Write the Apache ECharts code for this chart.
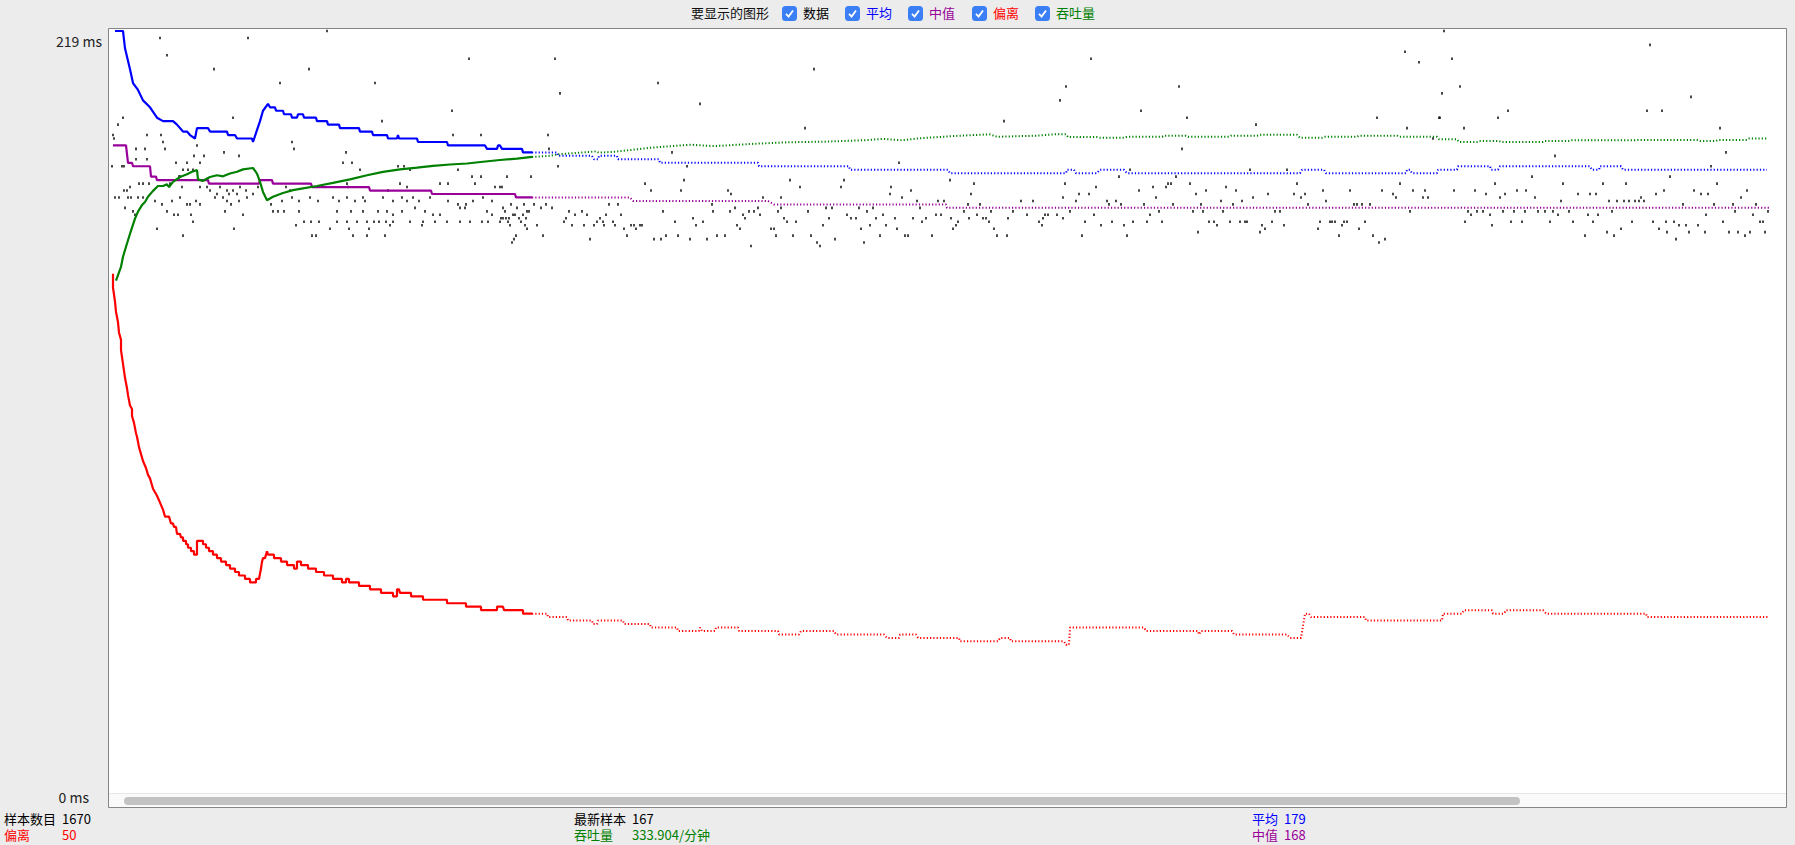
<!DOCTYPE html>
<html>
<head>
<meta charset="utf-8">
<script src="https://cdn.jsdelivr.net/npm/echarts@6.0.0/dist/echarts.min.js"></script>
<style>
html, body { margin: 0; padding: 0; background: #ececec; }
#chart { width: 1795px; height: 845px; }
</style>
</head>
<body>
<div id="chart"></div>
<script>
// x = sample column (0 .. 1674), y = ms
const yTicks = [0, 219];

// each sample (black dots)
const samples = [
  [48,217],[136,217],[215,219],[55,212],[102,208],[197,208],[168,204],[263,204],[357,211],[340,196],[11,194],[6,192],[121,194],[270,193],
  [1,189],[2,188],[35,189],[49,189],[51,187],[53,185],[24,185],[33,185],[85,186],[180,187],[182,185],[234,184],[341,189],[369,189],[436,189],
  [82,183],[92,183],[88,181],[112,184],[127,183],[24,182],[35,182],[64,181],[75,181],[231,181],[240,181],[248,179],[0,180],[10,180],[12,180],
  [286,180],[292,180],[298,179],[346,179],[360,177],[369,177],[67,177],[68,177],[71,179],[76,179],[81,179],[37,175],[18,174],[15,173],[12,173],
  [27,175],[31,175],[58,175],[70,174],[88,174],[95,174],[98,173],[105,172],[108,174],[115,173],[117,172],[121,173],[125,172],[128,174],[134,173],
  [141,172],[146,174],[174,174],[178,173],[235,175],[236,174],[276,173],[288,175],[295,174],[328,175],[336,175],[363,175],[383,174],[388,174],
  [3,171],[7,171],[16,171],[19,171],[26,171],[31,171],[43,170],[50,169],[60,170],[68,171],[75,169],[78,169],[84,170],[88,169],[103,171],[111,171],
  [115,170],[119,169],[127,170],[135,171],[159,169],[170,170],[180,171],[187,170],[198,171],[206,170],[221,171],[227,170],[235,171],[243,170],
  [251,171],[253,170],[271,171],[281,170],[290,171],[295,170],[301,171],[307,170],[318,171],[336,170],[346,169],[354,169],[361,170],[371,171],
  [380,170],[13,168],[21,167],[23,166],[55,167],[62,166],[66,166],[79,166],[113,167],[131,166],[161,167],[166,167],[172,167],[187,167],[225,167],
  [239,167],[251,167],[266,167],[275,167],[281,166],[290,167],[303,168],[313,167],[321,166],[328,166],[348,168],[353,168],[375,167],[380,166],
  [81,164],[184,163],[192,164],[199,164],[207,164],[225,164],[235,164],[245,164],[255,164],[262,164],[267,164],[274,164],[281,164],[298,164],
  [311,164],[323,164],[335,164],[348,164],[358,164],[370,164],[376,164],[388,164],[45,162],[122,162],[200,160],[218,162],[237,162],[257,162],
  [278,163],[310,163],[71,160],[204,160],[241,160],[255,160],[273,160],
  [443,211],[448,201],[546,204],[702,208],[979,211],[954,203],
  [588,198],[948,199],[892,193],[693,191],[437,185],[560,184],[446,180],[575,180],[787,181],[395,177],[419,177],[678,176],[732,176],[572,176],
  [838,176],[533,175],[688,174],[729,174],[779,174],[862,175],[953,175],[984,174],[390,174],[539,173],[569,173],[616,173],[619,172],[799,173],
  [778,172],[859,172],[967,172],[977,172],[651,171],[669,171],[790,171],[951,171],[909,170],[921,170],[805,170],[826,170],[832,170],[964,170],
  [391,168],[399,169],[405,168],[412,169],[422,169],[429,168],[434,169],[440,168],[497,169],[506,169],[600,169],[623,168],[646,168],[669,168],
  [714,168],[720,168],[747,168],[761,168],[808,168],[852,167],[856,169],[868,169],[865,166],[879,167],[901,167],[915,166],[933,166],[936,166],
  [945,166],[958,167],[982,166],[393,167],[401,166],[403,166],[411,166],[415,167],[417,167],[457,167],[463,166],[470,167],[475,166],[494,166],
  [509,166],[551,167],[601,167],[618,167],[631,166],[637,167],[642,167],[648,166],[666,167],[696,167],[735,166],[755,167],[771,166],[824,166],
  [829,166],[389,165],[391,165],[394,165],[397,165],[407,165],[414,165],[454,165],[488,165],[581,165],[633,165],[672,165],[717,165],[739,165],
  [744,165],[764,165],[783,165],[801,165],[814,165],[839,165],[857,165],[871,165],[874,165],[896,165],[931,165],[951,165],[396,164],[409,164],
  [452,164],[485,164],[491,164],[501,164],[563,164],[591,164],[675,164],[684,164],[810,164],[846,164],[877,164],[927,164],[973,164],[398,163],
  [413,163],[425,163],[460,163],[472,163],[482,163],[492,163],[503,163],[519,163],[522,163],[528,163],[530,163],[584,163],[625,163],[711,163],
  [758,163],[774,163],[844,163],[930,163],[989,163],[415,162],[512,162],[524,162],[628,162],[659,162],[662,162],[749,162],[785,162],[841,162],
  [882,162],[404,160],[431,160],[515,160],[566,160],[613,160],[681,160],[699,160],[796,160],[820,160],[885,160],[895,160],[664,160],[768,160],
  [793,160],[970,160],[402,159],[478,159],[542,159],[549,159],[554,160],[578,159],[595,159],[605,160],[723,159],[400,158],[639,157],[705,158],
  [708,157],[752,158],
  [1332,219],[1293,213],[1307,210],[1340,211],[1538,215],[1067,203],[1348,203],[1330,201],[1029,196],[1075,194],[1396,196],[1386,194],[1535,196],
  [1550,196],[1579,200],[1265,194],[1327,194],[1328,194],[1144,192],[1295,191],[1352,191],[1608,191],[1070,185],[1614,184],[1321,188],[1443,183],
  [1599,180],[1018,179],[1138,179],[1175,179],[1007,177],[1064,177],[1420,177],[1558,177],[1056,175],[1059,175],[1078,175],[1185,175],[1288,175],
  [1383,175],[1514,175],[1451,175],[1491,175],[1605,175],[1027,173],[1094,173],[1124,173],[1211,173],[1238,173],[1270,173],[1301,173],[1313,173],
  [1342,173],[1363,173],[1405,173],[1414,173],[1552,173],[1582,173],[1635,173],[1041,174],[1054,174],[1114,174],[1084,172],[1156,172],[1182,172],
  [1193,172],[1281,172],[1374,172],[1393,172],[1466,172],[1478,172],[1484,172],[1544,172],[1589,172],[1596,172],[1044,171],[1141,171],[1189,171],
  [1284,171],[1311,171],[1316,171],[1388,171],[1423,171],[1529,171],[1629,171],[995,170],[1004,170],[1109,170],[1130,170],[1214,170],[1449,170],
  [1497,170],[1505,170],[1512,170],[1517,170],[1523,170],[1527,170],[1532,170],[1602,169],[997,169],[1009,169],[1032,169],[1061,169],[1089,169],
  [1121,169],[1196,169],[1242,169],[1245,169],[1250,169],[1258,169],[1571,169],[1621,169],[1644,169],[1656,167],[1047,167],[1081,167],[1091,167],
  [1111,167],[1163,167],[1168,167],[1298,167],[1356,167],[1365,167],[1371,167],[1391,167],[1402,167],[1413,167],[1426,167],[1433,167],[1441,167],
  [1457,167],[1500,167],[1623,167],[1038,166],[1359,166],[1378,166],[1446,166],[1476,166],[1486,166],[1594,166],[1641,166],[1021,164],[1050,164],
  [1097,164],[1128,164],[1133,164],[1208,164],[1220,164],[1223,164],[1232,164],[1353,164],[1438,164],[1481,164],[1562,164],[1611,164],[1648,164],
  [1651,164],[1000,164],[1035,164],[1102,164],[1118,164],[1135,164],[1160,164],[1218,164],[1235,164],[1253,164],[1410,164],[1399,164],[1461,164],
  [1520,164],[1541,164],[1554,164],[1012,163],[1105,163],[1150,163],[1172,163],[1230,163],[1380,163],[1567,163],[1574,163],[1586,163],[1509,162],
  [1153,162],[1206,162],[1247,162],[1547,162],[1086,161],[1148,161],[1495,161],[1555,161],[1577,161],[1593,161],[1617,161],[1626,161],[1638,161],
  [1653,161],[1015,160],[1227,160],[1261,160],[1473,160],[1502,160],[1633,160],[1273,159],[1564,159],[1267,158]
];

// 平均
const average = [
  [3,219],[11,219],[13,214],[18,208],[21,204],[26,202],[31,199],[38,197],[45,194],[51,193],[61,193],[65,192],[71,190],[75,190],[78,189],[83,188],
  [85,191],[96,191],[98,190],[115,190],[116,189],[123,189],[125,188],[140,188],[141,187],[148,193],[151,196],[156,198],[158,197],[163,197],
  [164,196],[171,196],[172,195],[179,195],[180,194],[185,194],[186,195],[191,195],[192,194],[204,194],[205,193],[215,193],[216,192],[227,192],
  [228,191],[247,191],[248,190],[260,190],[261,189],[275,189],[276,188],[285,188],[286,189],[287,188],[305,188],[306,187],[335,187],[336,186],
  [373,186],[375,185],[385,185],[386,186],[388,186],[390,185],[410,185],[411,184],[420,184],[445,184],[446,183],[480,183],[482,182],[486,182],
  [487,183],[505,183],[506,182],[547,182],[548,181],[646,181],[647,180],[737,180],[738,179],[836,179],[838,178],[954,178],[955,179],[962,179],
  [964,178],[985,178],[988,179],[1012,179],[1015,178],[1188,178],[1190,179],[1212,179],[1214,178],[1294,178],[1295,179],[1298,179],[1300,178],
  [1325,178],[1326,179],[1345,179],[1346,180],[1378,180],[1379,179],[1386,179],[1388,180],[1478,180],[1480,179],[1487,179],[1488,180],[1509,180],
  [1511,179],[1655,179]
];

// 中值
const median = [
  [1,186],[14,186],[16,181],[20,181],[21,180],[38,180],[39,177],[44,177],[45,176],[96,176],[97,175],[147,175],[148,176],[160,176],[161,175],
  [199,175],[200,174],[257,174],[258,173],[319,173],[320,172],[403,172],[404,171],[420,171],[518,171],[521,170],[656,170],[662,169],[834,169],
  [835,168],[1657,168]
];

// 偏离
const deviation = [
  [1,149],[1,145],[3,141],[4,138],[6,135],[7,132],[9,130],[9,127],[10,125],[11,123],[12,121],[13,119],[15,116],[16,114],[18,111],[20,110],
  [20,108],[22,106],[24,103],[25,102],[27,99],[29,97],[31,95],[34,93],[36,91],[38,90],[41,87],[45,85],[48,83],[51,81],[53,79],[57,79],[59,77],
  [61,77],[62,76],[64,76],[65,74],[68,74],[69,73],[71,73],[71,72],[74,72],[74,71],[76,71],[76,70],[79,70],[79,69],[82,69],[82,68],[85,68],
  [85,72],[91,72],[91,71],[94,71],[94,70],[97,70],[97,69],[101,69],[101,68],[105,68],[105,67],[109,67],[109,66],[114,66],[114,65],[118,65],
  [118,64],[123,64],[123,63],[127,63],[127,62],[133,62],[133,61],[138,61],[138,60],[144,60],[144,61],[147,61],[149,64],[150,66],[151,67],
  [153,67],[155,69],[156,68],[162,68],[162,67],[169,67],[169,66],[175,66],[175,65],[182,65],[182,64],[185,64],[185,66],[189,66],[189,65],
  [196,65],[196,64],[204,64],[204,63],[212,63],[212,62],[221,62],[221,61],[230,61],[230,60],[234,60],[234,61],[237,61],[237,60],[247,60],
  [247,59],[258,59],[258,58],[269,58],[269,57],[281,57],[281,56],[285,56],[285,58],[287,58],[288,57],[299,57],[299,56],[311,56],[311,55],
  [335,55],[335,54],[354,54],[354,53],[369,53],[369,52],[385,52],[385,53],[391,53],[392,52],[411,52],[411,51],[420,51],[435,51],[436,50],
  [455,50],[456,49],[480,49],[481,48],[485,48],[486,49],[511,49],[512,48],[538,48],[539,47],[565,47],[566,46],[587,46],[588,47],[590,46],
  [603,46],[604,47],[626,47],[627,46],[666,46],[667,45],[687,45],[689,46],[722,46],[724,45],[772,45],[775,44],[787,44],[788,45],[804,45],
  [806,44],[847,44],[848,43],[886,43],[888,44],[898,44],[899,43],[952,43],[954,42],[957,42],[958,47],[1032,47],[1034,46],[1086,46],[1087,45],
  [1089,46],[1120,46],[1122,45],[1175,45],[1178,44],[1189,44],[1193,51],[1197,51],[1199,50],[1253,50],[1254,49],[1330,49],[1331,51],[1350,51],
  [1352,52],[1380,52],[1381,51],[1392,51],[1394,52],[1431,52],[1434,51],[1534,51],[1535,50],[1657,50]
];

// 吞吐量
const throughput = [
  [4,147],[6,148.6],[9,151],[11,153.9],[14,156.8],[17,159.6],[20,162.3],[23,164.9],[26,166.9],[30,168.8],[33,169.7],[36,171.2],[41,172.9],
  [46,174.3],[51,174.3],[55,174.8],[57,174],[61,175.5],[68,176.9],[75,177.7],[80,178.4],[85,178.9],[86,176.2],[91,175.8],[98,176.9],[105,177.4],
  [111,177.1],[118,177.9],[125,178.4],[131,179.1],[141,179.5],[145,177.9],[148,175.5],[151,172.6],[155,170.2],[161,171.2],[171,172.3],
  [181,173.1],[191,173.6],[205,174.3],[221,175.2],[238,176.2],[255,177.4],[271,178.4],[288,179.1],[305,179.6],[321,180.1],[338,180.5],
  [355,180.8],[371,181.3],[388,181.8],[405,182.2],[420,182.7],[438,183],[445,183.4],[484,184.3],[487,183.9],[503,184.2],[522,184.8],
  [541,185.4],[579,186.2],[602,185.8],[637,186.4],[675,186.9],[713,187.1],[752,187.5],[771,187.9],[790,187.5],[809,188.1],[847,188.8],
  [878,189.2],[885,188.5],[924,188.8],[943,189.2],[954,189.2],[956,188.4],[985,188.4],[988,188.2],[1012,188.2],[1015,188.5],[1050,188.5],
  [1052,188.8],[1074,188.8],[1076,188.5],[1117,188.5],[1119,188.8],[1145,188.8],[1148,189.1],[1185,189.1],[1188,188.2],[1210,188.2],
  [1212,188.5],[1245,188.5],[1247,188.8],[1285,188.8],[1287,188.5],[1325,188.5],[1327,187.8],[1345,187.8],[1347,187],[1365,187],[1367,187.3],
  [1387,187.3],[1389,187],[1431,187],[1433,187.3],[1458,187.3],[1460,187.5],[1524,187.5],[1526,187.6],[1586,187.6],[1588,187.3],[1604,187.3],
  [1606,187.6],[1635,187.6],[1637,188],[1655,188]
];

const legendTitle = '要显示的图形';
const legendNames = ['数据', '平均', '中值', '偏离', '吞吐量'];
const legendColors = ['#000000', '#0000ff', '#990099', '#ff0000', '#008000'];

const statNames = ['样本数目', '偏离', '最新样本', '吞吐量', '平均', '中值'];
const statValues = ['1670', '50', '167', '333.904/分钟', '179', '168'];
const statColors = ['#000000', '#ff0000', '#000000', '#008000', '#0000ff', '#990099'];

const FONT = '"Noto Sans CJK SC", "Noto Sans", sans-serif';
const SPLIT = 420; // early part is drawn solid, later part dotted

function lineParts(name, pts, color) {
    return [
        {
            name: name, type: 'line', data: pts.filter(p => p[0] <= SPLIT),
            showSymbol: false, silent: true, z: 3,
            lineStyle: {color: color, width: 2.2}
        },
        {
            name: name, type: 'line', data: pts.filter(p => p[0] >= SPLIT),
            showSymbol: false, silent: true, z: 3,
            lineStyle: {color: color, width: 2, type: [1.2, 2.1], cap: 'butt'}
        }
    ];
}

let graphics = [];
// plot frame + scrollbar
graphics.push({type: 'rect', z: -10, shape: {x: 108.5, y: 28.5, width: 1678, height: 779},
    style: {fill: '#ffffff', stroke: '#858585', lineWidth: 1}});
graphics.push({type: 'rect', z: -9, shape: {x: 109, y: 793, width: 1677, height: 14},
    style: {fill: '#fafafa'}});
graphics.push({type: 'line', z: -9, shape: {x1: 109, y1: 793.5, x2: 1786, y2: 793.5},
    style: {stroke: '#e6e6e6', lineWidth: 1}});
graphics.push({type: 'rect', z: -8, shape: {x: 124, y: 797, width: 1396, height: 8, r: 4},
    style: {fill: '#c2c2c2'}});

// legend row (check boxes)
graphics.push({type: 'text', x: 691, y: 12.5,
    style: {text: legendTitle, fill: '#111', font: '13px ' + FONT, verticalAlign: 'middle'}});
const legendX = [782, 845, 908, 972, 1035];
legendNames.forEach((n, i) => {
    let x = legendX[i];
    graphics.push({type: 'rect', x: x, y: 6, shape: {x: 0, y: 0, width: 15, height: 15, r: 3.5},
        style: {fill: '#3a7ff6'}});
    graphics.push({type: 'polyline', x: x, y: 6, shape: {points: [[4, 7.8], [6.6, 10.6], [11, 4.4]]},
        style: {stroke: '#ffffff', lineWidth: 1.8, fill: null}});
    graphics.push({type: 'text', x: x + 21, y: 12.8,
        style: {text: n, fill: legendColors[i], font: '13px ' + FONT, verticalAlign: 'middle'}});
});

// stats under the graph
const statX = [4, 4, 574, 574, 1252, 1252];
const statValX = [62, 62, 632, 632, 1284, 1284];
const statY = [818.5, 834.5, 818.5, 834.5, 818.5, 834.5];
statNames.forEach((n, i) => {
    graphics.push({type: 'text', x: statX[i], y: statY[i],
        style: {text: n, fill: statColors[i], font: '13px ' + FONT, verticalAlign: 'middle'}});
    graphics.push({type: 'text', x: statValX[i], y: statY[i],
        style: {text: statValues[i], fill: statColors[i], font: '13px ' + FONT, verticalAlign: 'middle'}});
});

const chart = echarts.init(document.getElementById('chart'), null, {renderer: 'svg'});
chart.setOption({
    animation: false,
    backgroundColor: '#ececec',
    textStyle: {fontFamily: FONT},
    grid: {left: 112, right: 9, top: 31, bottom: 54.5},
    xAxis: {type: 'value', min: 0, max: 1674, show: false},
    yAxis: {
        type: 'value', min: yTicks[0], max: yTicks[1], interval: yTicks[1] - yTicks[0],
        axisLine: {show: false}, axisTick: {show: false}, splitLine: {show: false},
        axisLabel: {
            margin: 10,
            formatter: v => v === 0 ? '{z|' + v + ' ms}' : '{t|' + v + ' ms}',
            rich: {
                t: {fontSize: 14, color: '#222', fontFamily: FONT, padding: [20, 0, 0, 0]},
                z: {fontSize: 14, color: '#222', fontFamily: FONT, padding: [13, 13, 0, 0]}
            }
        }
    },
    graphic: graphics,
    series: [
        {
            name: legendNames[0], type: 'scatter', data: samples, silent: true, z: 2,
            symbol: 'rect', symbolSize: [1.8, 2.6], itemStyle: {color: '#000'}
        }
    ].concat(
        lineParts(legendNames[1], average, legendColors[1]),
        lineParts(legendNames[2], median, legendColors[2]),
        lineParts(legendNames[3], deviation, legendColors[3]),
        lineParts(legendNames[4], throughput, legendColors[4])
    )
});
</script>
</body>
</html>
